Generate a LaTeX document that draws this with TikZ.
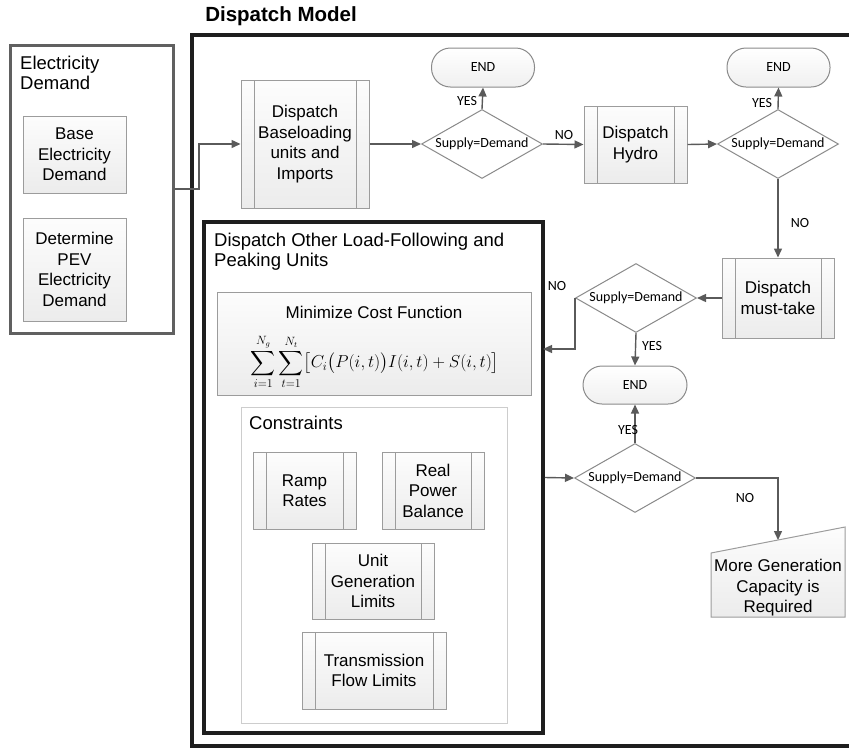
\documentclass[tikz,border=0pt]{standalone}
\usepackage{exscale}
\usepackage[no-math]{fontspec}
\setmainfont{Liberation Sans}
\newfontfamily\calfont{Carlito}
\usetikzlibrary{shapes.geometric,arrows.meta,calc}
\definecolor{conn}{HTML}{5A5A5A}
\definecolor{boxline}{HTML}{9C9C9C}
\definecolor{dialine}{HTML}{8A8A8A}
\definecolor{elecline}{HTML}{606060}
\definecolor{frameline}{HTML}{1E1E1E}
\definecolor{consline}{HTML}{CDCDCD}
\tikzset{
  body/.style={font=\fontsize{17}{20.5}\selectfont, align=center},
  ttl/.style={font=\fontsize{18.5}{20}\selectfont, align=left, inner sep=0pt},
  gbox/.style={draw=boxline, line width=1pt, top color=gray!2, bottom color=gray!15, body, inner sep=0pt},
  subproc/.style={gbox, path picture={\draw[boxline, line width=1pt]
      ([xshift=13pt]path picture bounding box.north west) -- ([xshift=13pt]path picture bounding box.south west)
      ([xshift=-13pt]path picture bounding box.north east) -- ([xshift=-13pt]path picture bounding box.south east);}},
  small/.style={font=\calfont\fontsize{14}{16}\selectfont},
  decision/.style={diamond, draw=dialine, line width=1pt, fill=white, aspect=1.75, inner sep=0pt,
      minimum width=121pt, minimum height=69pt, small},
  terminal/.style={draw=dialine, line width=1pt, rounded corners=19pt, top color=white, bottom color=gray!12,
      minimum width=103pt, minimum height=39pt, inner sep=0pt, small},
  lab/.style={small, inner sep=0pt},
  flow/.style={draw=conn, line width=1.4pt, -{Triangle[length=9pt,width=8pt]}},
  frame/.style={draw=frameline, inner sep=0pt},
}
\begin{document}
\begin{tikzpicture}[x=1pt,y=-1pt]
\useasboundingbox (0,0) rectangle (849,748);
\clip (0,0) rectangle (849,748);

% title
\node[font=\bfseries\fontsize{20.5}{24}\selectfont, inner sep=0pt] (title) at (281,16) {Dispatch Model};

% frames
\node[frame, line width=4.5pt, minimum width=664pt, minimum height=711pt] (dm) at (524,390.5) {};
\node[frame, line width=3.5pt, minimum width=339pt, minimum height=511pt] (dof) at (373.5,477.5) {};
\node[draw=elecline, line width=3pt, minimum width=163pt, minimum height=288pt, inner sep=0pt] (elec) at (91.5,189) {};

% electricity demand
\node[ttl, anchor=west] (electitle) at (20,73) {Electricity\\Demand};
\node[gbox, minimum width=103pt, minimum height=77pt] (base) at (74.5,154.5) {Base\\Electricity\\Demand};
\node[gbox, minimum width=103pt, minimum height=103pt] (pev) at (74.5,269.5) {Determine\\PEV\\Electricity\\Demand};

% main flow
\node[subproc, minimum width=128pt, minimum height=128pt] (bl) at (305,144) {Dispatch\\Baseloading\\units and\\Imports};
\node[decision] (d1) at (482,144) {Supply=Demand};
\node[terminal] (end1) at (483,67.5) {END};
\node[subproc, minimum width=103pt, minimum height=77pt] (hydro) at (635.5,144.5) {Dispatch\\Hydro};
\node[decision] (d2) at (778,144) {Supply=Demand};
\node[terminal] (end2) at (778.5,67.5) {END};
\node[subproc, minimum width=112pt, minimum height=80pt] (must) at (778,298) {Dispatch\\must-take};
\node[decision] (d3) at (636,298) {Supply=Demand};
\node[terminal, minimum width=104pt, minimum height=38pt] (end3) at (635,385) {END};
\node[decision] (d4) at (635,478) {Supply=Demand};

% manual input shape
\draw[draw=boxline, line width=1pt, top color=gray!2, bottom color=gray!15]
  (711,553) -- (845,527) -- (845,617) -- (711,617) -- cycle;
\node[body, inner sep=0pt] (mgc) at (778,588) {More Generation\\Capacity is\\Required};
\coordinate (mgctop) at (778,540);

% dispatch other load-following
\node[ttl, anchor=west] (doftitle) at (214,252) {Dispatch Other Load-Following and\\Peaking Units};
\node[gbox, minimum width=314pt, minimum height=103pt] (minbox) at (374,343.5) {};
\node[body, inner sep=0pt] (mintext) at (374,312) {Minimize Cost Function};
\node[inner sep=0pt, font=\fontsize{17}{20}\selectfont] (formula) at (375,362)
  {$\displaystyle\sum_{i=1}^{N_g}\sum_{t=1}^{N_t}\bigl[C_i\bigl(P(i,t)\bigr)I(i,t)+S(i,t)\bigr]$};
\node[draw=consline, line width=1pt, fill=white, minimum width=266pt, minimum height=316pt, inner sep=0pt] (cons) at (374,565) {};
\node[ttl, anchor=west] (constitle) at (249,423) {Constraints};
\node[subproc, minimum width=103pt, minimum height=77pt] (ramp) at (304.5,490.5) {Ramp\\Rates};
\node[subproc, minimum width=102pt, minimum height=77pt] (real) at (433,490.5) {Real\\Power\\Balance};
\node[subproc, minimum width=122pt, minimum height=76pt] (unit) at (373,581) {Unit\\Generation\\Limits};
\node[subproc, minimum width=144pt, minimum height=77pt] (trans) at (374,670.5) {Transmission\\Flow Limits};

% connectors
\draw[flow] (elec.east) -- (199,189) |- (bl.west);
\draw[flow] (bl.east) -- (d1.west);
\draw[flow] (d1.north) -- (end1.south);
\draw[flow] (d1.east) -- (hydro.west);
\draw[flow] (hydro.east) -- (d2.west);
\draw[flow] (d2.north) -- (end2.south);
\draw[flow] (d2.south) -- (must.north);
\draw[flow] (must.west) -- (d3.east);
\coordinate (dofin) at (543,349);
\draw[flow] (d3.west) |- (dofin);
\draw[flow] (d3.south) -- (end3.north);
\draw[flow] (d4.north) -- (end3.south);
\draw[flow] (dof.east) -- (d4.west);
\draw[flow] (d4.east) -| (mgctop);

% labels
\node[lab] (yes1) at (467,101) {YES};
\node[lab] (no1) at (564,135) {NO};
\node[lab] (yes2) at (762,103) {YES};
\node[lab] (no2) at (800,223) {NO};
\node[lab] (no3) at (557,286) {NO};
\node[lab] (yes3) at (652,346) {YES};
\node[lab] (yes4) at (628,430) {YES};
\node[lab] (no4) at (745,498) {NO};
\end{tikzpicture}
\end{document}
